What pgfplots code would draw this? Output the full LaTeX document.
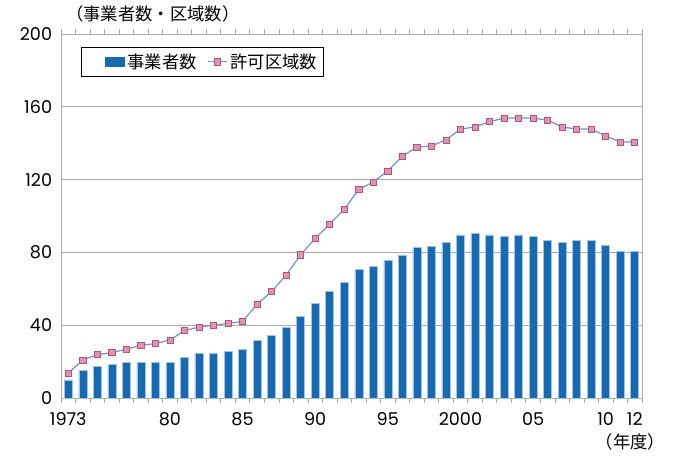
\documentclass[border=0pt]{standalone}
\usepackage{pgfplots}
\pgfplotsset{compat=1.18}
\usepackage{fontspec}
\setmainfont{Noto Sans CJK JP}
\newfontfamily\numfont{Poppins}
\definecolor{barblue}{RGB}{22,106,178}
\definecolor{baredge}{RGB}{160,195,230}
\definecolor{lineblue}{RGB}{105,150,210}
\definecolor{mkfill}{RGB}{215,150,185}
\definecolor{mkdraw}{RGB}{195,80,100}
\definecolor{axgray}{RGB}{170,170,170}
\begin{document}
\begin{tikzpicture}
\useasboundingbox (0pt,0pt) rectangle (507.75pt,345.75pt);
\begin{axis}[
    at={(45.75pt,47.25pt)}, anchor=south west,
    scale only axis,
    width=435.75pt, height=273pt,
    xmin=1972.5, xmax=2012.5,
    ymin=0, ymax=200,
    ytick={0,40,80,120,160,200},
    xtick={1973,1980,1985,1990,1995,2000,2005,2010,2012},
    xticklabels={1973,80,85,90,95,2000,05,10,12},
    minor xtick={1972.5,1973.5,...,2012.5},
    major tick length=0pt,
    minor tick length=3.75pt,
    tick align=outside,
    minor tick style={axgray, line width=0.5pt},
    ymajorgrids,
    grid style={axgray, line width=0.6pt},
    axis line style={axgray, line width=0.6pt},
    /pgf/number format/assume math mode=true,
    /pgf/number format/1000 sep={},
    tick label style={font=\numfont\fontsize{13.2}{15}\selectfont},
    y tick label style={inner sep=0pt, xshift=-6.5pt},
    x tick label style={inner sep=0pt, yshift=-11pt},
    legend columns=2,
    legend style={at={(axis description cs:0.0344,0.964)}, anchor=north west,
        draw=black, line width=0.6pt, fill=white,
        font=\fontsize{13}{15}\selectfont,
        inner xsep=3pt, inner ysep=2.5pt,
        /tikz/every odd column/.append style={column sep=0pt},
        /tikz/every even column/.append style={column sep=6pt}},
]
\addplot[ybar, bar width=6pt, fill=barblue, draw=baredge, line width=0.4pt,
    legend image code/.code={\path (0pt,0pt); \fill[barblue] (15pt,-3.4pt) rectangle (29.25pt,3.4pt);}]
coordinates {
(1973,10) (1974,15) (1975,17.5) (1976,18.5) (1977,19.5) (1978,19.5) (1979,19.5) (1980,19.5)
(1981,22.5) (1982,24.5) (1983,24.5) (1984,25.8) (1985,26.7) (1986,31.7) (1987,34.6) (1988,38.6)
(1989,44.9) (1990,52.2) (1991,58.6) (1992,63.6) (1993,70.7) (1994,72.5) (1995,75.6) (1996,78.7)
(1997,82.6) (1998,83.5) (1999,85.7) (2000,89.6) (2001,90.5) (2002,89.6) (2003,88.6) (2004,89.6)
(2005,88.6) (2006,86.6) (2007,85.7) (2008,86.6) (2009,86.6) (2010,83.7) (2011,80.6) (2012,80.6)
};
\addlegendentry{事業者数}
\addplot[lineblue, line width=0.9pt, mark=square*,
    mark options={fill=mkfill, draw=mkdraw, line width=0.5pt}, mark size=2.3pt,
    legend image code/.code={
        \draw[lineblue, line width=0.9pt] (0pt,0pt) -- (14.25pt,0pt);
        \draw[fill=mkfill, draw=mkdraw, line width=0.5pt] (4.8pt,-2.3pt) rectangle (9.4pt,2.3pt);}]
coordinates {
(1973,13.7) (1974,20.9) (1975,23.8) (1976,24.9) (1977,26.9) (1978,28.9) (1979,29.9) (1980,31.9)
(1981,37) (1982,39) (1983,40) (1984,41) (1985,42) (1986,51.6) (1987,58.4) (1988,67.6)
(1989,78.7) (1990,87.7) (1991,95.6) (1992,103.7) (1993,114.6) (1994,118.7) (1995,124.7) (1996,132.8)
(1997,137.9) (1998,138.5) (1999,141.8) (2000,147.8) (2001,148.9) (2002,151.8) (2003,153.8) (2004,153.8)
(2005,153.8) (2006,152.7) (2007,148.9) (2008,147.8) (2009,147.8) (2010,144) (2011,140.7) (2012,140.7)
};
\addlegendentry{許可区域数}
\end{axis}
\node[anchor=west, inner sep=0pt, font=\fontsize{13}{15}\selectfont] at (49.5pt,335.25pt) {（事業者数・区域数）};
\node[anchor=east, inner sep=0pt, font=\fontsize{13}{15}\selectfont] at (499pt,14.5pt) {（年度）};
\end{tikzpicture}
\end{document}
